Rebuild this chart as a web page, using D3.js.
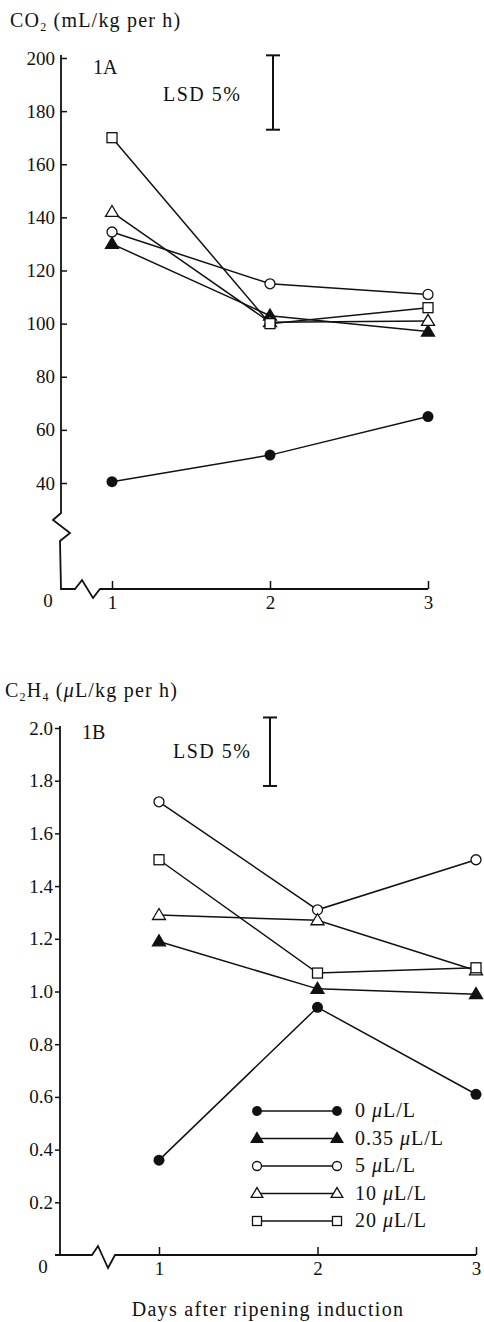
<!DOCTYPE html>
<html><head><meta charset="utf-8">
<script src="https://cdn.jsdelivr.net/npm/d3@7"></script>
<style>
html,body{margin:0;padding:0;background:#fff;}
svg{display:block;}
text{font-family:"Liberation Serif","Times New Roman",serif;fill:#111;}
</style></head><body>
<svg id="c" width="484" height="1322"></svg>
<script>
// ---- data ----
const days = [1, 2, 3];
const seriesNames = ["0 μL/L", "0.35 μL/L", "5 μL/L", "10 μL/L", "20 μL/L"];
const seriesMarkers = ["circleFilled", "triangleFilled", "circleOpen", "triangleOpen", "squareOpen"];
// Panel 1A: CO2 (mL/kg per h)
const co2_0   = [40.5, 50.5, 65];
const co2_035 = [130, 103, 97];
const co2_5   = [134.5, 115, 111];
const co2_10  = [142, 100.5, 101];
const co2_20  = [170, 100, 106];
// Panel 1B: C2H4 (μL/kg per h)
const c2h4_0   = [0.36, 0.94, 0.61];
const c2h4_035 = [1.19, 1.01, 0.99];
const c2h4_5   = [1.72, 1.31, 1.50];
const c2h4_10  = [1.29, 1.27, 1.08];
const c2h4_20  = [1.50, 1.07, 1.09];
// LSD 5% bars [low, high]
const lsdA = [173, 201];
const lsdB = [1.78, 2.04];
// ticks
const ticksA = [40, 60, 80, 100, 120, 140, 160, 180, 200];
const ticksB = [0.2, 0.4, 0.6, 0.8, 1.0, 1.2, 1.4, 1.6, 1.8, 2.0];
const xTicks = [1, 2, 3];

const svg = d3.select("#c");
const FS = 20, TFS = 19, LS = 1.2;

function marker(g, type, x, y, s) {
  s = s || 1;
  if (type === "circleFilled") {
    g.append("circle").attr("cx", x).attr("cy", y).attr("r", 5.5 * s).attr("fill", "#111");
  } else if (type === "circleOpen") {
    g.append("circle").attr("cx", x).attr("cy", y).attr("r", 5 * s).attr("fill", "#fff").attr("stroke", "#111").attr("stroke-width", 1.3);
  } else if (type === "triangleFilled" || type === "triangleOpen") {
    const h = 11 * s, w = 13 * s;
    const p = `M${x},${y - h * 0.6}L${x + w / 2},${y + h * 0.4}L${x - w / 2},${y + h * 0.4}Z`;
    g.append("path").attr("d", p)
      .attr("fill", type === "triangleFilled" ? "#111" : "#fff")
      .attr("stroke", "#111").attr("stroke-width", 1.3);
  } else if (type === "squareOpen") {
    const a = 10 * s;
    g.append("rect").attr("x", x - a / 2).attr("y", y - a / 2).attr("width", a).attr("height", a)
      .attr("fill", "#fff").attr("stroke", "#111").attr("stroke-width", 1.3);
  }
}

function drawSeries(g, x, y, data) {
  const line = d3.line().x((d, i) => x(days[i])).y(d => y(d));
  data.forEach(vals => {
    g.append("path").attr("d", line(vals)).attr("fill", "none").attr("stroke", "#111").attr("stroke-width", 1.5);
  });
  data.forEach((vals, k) => {
    vals.forEach((v, i) => marker(g, seriesMarkers[k], x(days[i]), y(v)));
  });
}

function lsdBar(g, xPos, y, rng) {
  const y0 = y(rng[0]), y1 = y(rng[1]);
  g.append("line").attr("x1", xPos).attr("x2", xPos).attr("y1", y0).attr("y2", y1).attr("stroke", "#111").attr("stroke-width", 2);
  [y0, y1].forEach(yy => g.append("line").attr("x1", xPos - 7).attr("x2", xPos + 7).attr("y1", yy).attr("y2", yy).attr("stroke", "#111").attr("stroke-width", 2));
}

function styleAxis(a) {
  a.select(".domain").remove();
  a.selectAll(".tick line").attr("stroke", "#111").attr("stroke-width", 1.5);
  a.selectAll(".tick text").attr("font-size", TFS).attr("font-family", "Liberation Serif").attr("fill", "#111");
}

// ---------------- Panel A ----------------
{
  const g = svg.append("g");
  const x = d3.scaleLinear().domain([1, 3]).range([112, 428]);
  const y = d3.scaleLinear().domain([40, 200]).range([483, 58]);
  const ax0 = 61, axY = 589;

  const t = g.append("text").attr("x", 10).attr("y", 27).attr("font-size", FS).attr("letter-spacing", LS);
  t.append("tspan").text("CO");
  t.append("tspan").attr("font-size", 12).attr("dy", 4).text("2");
  t.append("tspan").attr("dy", -4).text(" (mL/kg per h)");

  const ya = g.append("g").attr("transform", `translate(${ax0},0)`)
    .call(d3.axisLeft(y).tickValues(ticksA).tickSize(-6).tickPadding(6).tickFormat(d3.format("d")));
  styleAxis(ya);

  const xa = g.append("g").attr("transform", `translate(0,${axY})`)
    .call(d3.axisBottom(x).tickValues(xTicks).tickSize(-8).tickPadding(7).tickFormat(d3.format("d")));
  styleAxis(xa);
  g.append("text").attr("x", 48).attr("y", axY + 18).attr("text-anchor", "middle").attr("font-size", TFS).text("0");

  const axisPath = `M${ax0},${y(200) - 3}L${ax0},513L${ax0 - 8},520L${ax0 + 9},533L${ax0 - 1},541L${ax0},${axY}` +
    `L75,${axY}L82,${axY - 9}L93,${axY + 9}L100,${axY}L${x(3)},${axY}`;
  g.append("path").attr("d", axisPath).attr("fill", "none").attr("stroke", "#111").attr("stroke-width", 1.8);

  g.append("text").attr("x", 93).attr("y", 74).attr("font-size", FS).text("1A");
  g.append("text").attr("x", 163).attr("y", 101).attr("font-size", FS).attr("letter-spacing", 1.5).text("LSD 5%");
  lsdBar(g, 273, y, lsdA);

  drawSeries(g, x, y, [co2_0, co2_035, co2_5, co2_10, co2_20]);
}

// ---------------- Panel B ----------------
{
  const g = svg.append("g");
  const x = d3.scaleLinear().domain([1, 3]).range([159, 476]);
  const y = d3.scaleLinear().domain([0, 2]).range([1255, 728]);
  const ax0 = 60, axY = 1255;

  const t = g.append("text").attr("x", 5).attr("y", 697).attr("font-size", FS).attr("letter-spacing", LS);
  t.append("tspan").text("C");
  t.append("tspan").attr("font-size", 12).attr("dy", 4).text("2");
  t.append("tspan").attr("dy", -4).text("H");
  t.append("tspan").attr("font-size", 12).attr("dy", 4).text("4");
  t.append("tspan").attr("dy", -4).text(" (");
  t.append("tspan").attr("font-style", "italic").text("μ");
  t.append("tspan").text("L/kg per h)");

  const ya = g.append("g").attr("transform", `translate(${ax0},0)`)
    .call(d3.axisLeft(y).tickValues(ticksB).tickSize(5).tickPadding(2).tickFormat(d3.format(".1f")));
  styleAxis(ya);

  const xa = g.append("g").attr("transform", `translate(0,${axY})`)
    .call(d3.axisBottom(x).tickValues(xTicks).tickSize(-8).tickPadding(7).tickFormat(d3.format("d")));
  styleAxis(xa);
  g.append("text").attr("x", 43).attr("y", axY + 18).attr("text-anchor", "middle").attr("font-size", TFS).text("0");

  const axisPath = `M${ax0},${y(2) - 2}L${ax0},${axY}L55,${axY}M${ax0},${axY}` +
    `L92,${axY}L98,${axY - 9}L108,${axY + 13}L115,${axY}L${x(3)},${axY}`;
  g.append("path").attr("d", axisPath).attr("fill", "none").attr("stroke", "#111").attr("stroke-width", 1.8);

  g.append("text").attr("x", 82).attr("y", 739).attr("font-size", FS).text("1B");
  g.append("text").attr("x", 173).attr("y", 758).attr("font-size", FS).attr("letter-spacing", 1.5).text("LSD 5%");
  lsdBar(g, 270, y, lsdB);

  drawSeries(g, x, y, [c2h4_0, c2h4_035, c2h4_5, c2h4_10, c2h4_20]);

  const leg = g.append("g");
  const legY0 = 1111, legDy = 27.5, lx0 = 257, lx1 = 337;
  seriesNames.forEach((name, k) => {
    const yy = legY0 + k * legDy;
    leg.append("line").attr("x1", lx0).attr("x2", lx1).attr("y1", yy).attr("y2", yy).attr("stroke", "#111").attr("stroke-width", 1.5);
    marker(leg, seriesMarkers[k], lx0, yy, 0.9);
    marker(leg, seriesMarkers[k], lx1, yy, 0.9);
    const parts = name.split("μ");
    const tx = leg.append("text").attr("x", 355).attr("y", yy + 6).attr("font-size", FS).attr("letter-spacing", 1);
    tx.append("tspan").text(parts[0]);
    tx.append("tspan").attr("font-style", "italic").text("μ");
    tx.append("tspan").text(parts[1]);
  });

  g.append("text").attr("x", 268).attr("y", 1316).attr("text-anchor", "middle").attr("font-size", FS).attr("letter-spacing", 1.3).text("Days after ripening induction");
}
</script>
</body></html>
